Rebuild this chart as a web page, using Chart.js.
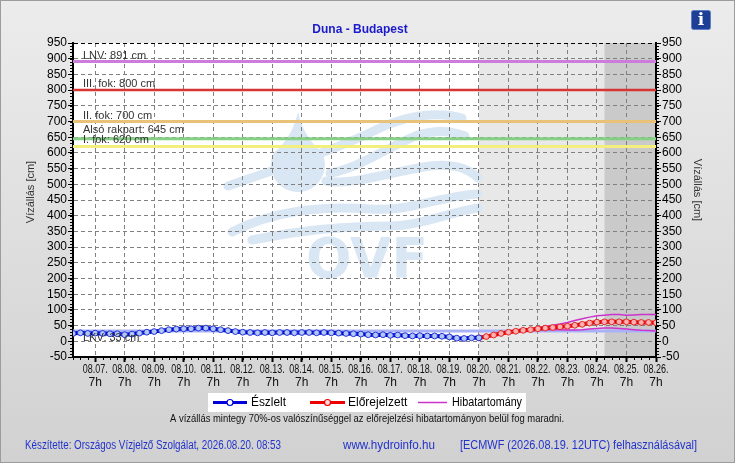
<!DOCTYPE html>
<html><head><meta charset="utf-8">
<script src="https://cdn.jsdelivr.net/npm/chart.js@4.4.1/dist/chart.umd.min.js"></script>
<style>html,body{margin:0;padding:0;background:#ddd;overflow:hidden}#wrap{width:735px;height:463px}</style>
</head><body><div id="wrap"><canvas id="c" width="735" height="463"></canvas></div>
<script>
// ---- data ----
const dayLabels = ['08.07.','08.08.','08.09.','08.10.','08.11.','08.12.','08.13.','08.14.','08.15.','08.16.','08.17.','08.18.','08.19.','08.20.','08.21.','08.22.','08.23.','08.24.','08.25.','08.26.'];
const hourLabel = '7h';
// time in days relative to 08.07. 7h; series are 6-hourly
const obsStartDay = -0.75;   // 08.06. 13h
const fcStartDay = 13;       // 08.20. 7h
const stepDays = 0.25;       // 6 h
const darkStartDay = 17.25;  // 08.24. 13h
const xMinDay = -0.75, xMaxDay = 19;
const obsValues = [25,27,25,26,25,24,24,21,23,26, 29,31,34,37,39,40,40,42,42,40, 37,34,31,29,28,27,28,27,28,28, 27,28,28,27,28,27,26,25,24,23, 21,20,21,19,20,18,17,18,17,17, 16,14,10,9,11,11];
const fcValues   = [11,15,20,25,29,32,35,37,40,42,44,46,48,51,54,58,61,62,62,62,62,61,60,60,59];
const bandUpper  = [11,15,20,25,30,33,36,39,43,47,51,55,60,66,72,77,81,83,85,85,83,84,85,85,85];
const bandLower  = [11,14,19,24,28,31,33,34,36,37,37,37,36,36,37,39,41,42,42,41,39,37,35,34,33];
const levelNames  = ['LNV: 891 cm','III. fok: 800 cm','II. fok: 700 cm','Alsó rakpart: 645 cm','I. fok: 620 cm','LKV: 33 cm'];
const levelValues = [891,800,700,645,620,33];
const yMin = -50, yMax = 950, yStep = 50;
// ---- styles ----
const levelColors = ['#cc7ddb','#d83434','#e9c27a','#86d086','#f2ef7e','#a9b1f7'];
const levelWidths = [3,2.5,3,3,3,3];
const levelLabelDy = [-6,-6.5,-6,-8.5,-6.5,7];
const FONT = '"Liberation Sans", Arial, sans-serif';

const series = (start, vals) => vals.map((v,i)=>({x:start+i*stepDays, y:v}));
const levelData = v => [{x:xMinDay,y:v},{x:xMaxDay,y:v}];

const datasets = [
  {label:'Észlelt', data:series(obsStartDay,obsValues), borderColor:'#0000dd', borderWidth:4,
   pointRadius:2.9, pointBackgroundColor:'#b2c8f4', pointBorderColor:'#2536d6', pointBorderWidth:1, tension:0},
  {label:'Előrejelzett', data:series(fcStartDay,fcValues), borderColor:'#ee0000', borderWidth:4,
   pointRadius:2.9, pointBackgroundColor:'#ffb0b0', pointBorderColor:'#e02828', pointBorderWidth:1, tension:0},
  {label:'Hibatartomány', data:series(fcStartDay,bandUpper), borderColor:'#cc33cc', borderWidth:1.5, pointRadius:0},
  {label:'Hibatartomány alsó', data:series(fcStartDay,bandLower), borderColor:'#cc33cc', borderWidth:1.5, pointRadius:0},
];
levelValues.forEach((v,i)=>datasets.push({label:levelNames[i], data:levelData(v), borderColor:levelColors[i], borderWidth:levelWidths[i], pointRadius:0}));

function wave(ctx, pts){
  ctx.beginPath(); ctx.moveTo(pts[0][0],pts[0][1]);
  for(let i=1;i<pts.length;i+=3) ctx.bezierCurveTo(pts[i][0],pts[i][1],pts[i+1][0],pts[i+1][1],pts[i+2][0],pts[i+2][1]);
  ctx.stroke();
}

const deco = {
  id:'deco',
  beforeDraw(chart){
    const {ctx, chartArea:a, scales:{x}} = chart;
    const W = chart.width, H = chart.height;
    ctx.save();
    const g = ctx.createLinearGradient(0,0,0,H);
    g.addColorStop(0,'#ececec'); g.addColorStop(1,'#d1d1d1');
    ctx.fillStyle = g; ctx.fillRect(0,0,W,H);
    ctx.strokeStyle = '#9c9c9c'; ctx.lineWidth = 1; ctx.strokeRect(0.5,0.5,W-1,H-1);
    ctx.fillStyle = '#fff'; ctx.fillRect(a.left,a.top,a.width,a.height);
    const xf = x.getPixelForValue(fcStartDay), xd = x.getPixelForValue(darkStartDay);
    ctx.fillStyle = '#e8e8e8'; ctx.fillRect(xf,a.top,xd-xf,a.height);
    ctx.fillStyle = '#cacaca'; ctx.fillRect(xd,a.top,a.right-xd,a.height);
    // OVF watermark
    const wc = '#d9e6f3';
    ctx.fillStyle = wc; ctx.strokeStyle = wc; ctx.lineCap = 'round';
    ctx.beginPath(); ctx.moveTo(298,112);
    ctx.quadraticCurveTo(304,138,322,152);
    ctx.arc(298,165,27,-0.48,Math.PI+0.48,false);
    ctx.quadraticCurveTo(292,138,298,112); ctx.fill();
    ctx.lineWidth = 9;
    wave(ctx,[[228,186],[280,168],[340,148],[380,128],[410,114],[440,112],[462,118]]);
    wave(ctx,[[330,173],[360,168],[385,148],[418,135],[435,130],[452,131],[465,136]]);
    wave(ctx,[[326,181],[350,186],[390,172],[430,166],[455,163],[470,170],[478,178]]);
    wave(ctx,[[232,232],[270,212],[320,205],[370,209],[410,212],[440,196],[478,194]]);
    wave(ctx,[[252,240],[300,230],[350,226],[390,226],[420,226],[450,212],[478,208]]);
    ctx.font = 'bold 56px "DejaVu Sans", sans-serif'; ctx.textAlign = 'center'; ctx.textBaseline = 'alphabetic';
    ctx.fillText('OVF', 367, 277, 122);
    ctx.restore();
  },
  afterDraw(chart){
    const {ctx, chartArea:a, scales:{x,y}} = chart;
    ctx.save();
    // level labels
    ctx.font = '11px ' + FONT; ctx.fillStyle = '#333'; ctx.textAlign = 'left'; ctx.textBaseline = 'middle';
    levelNames.forEach((n,i)=>{ ctx.fillText(n, a.left+10, y.getPixelForValue(levelValues[i])+levelLabelDy[i]); });
    // minor ticks
    ctx.strokeStyle = '#000'; ctx.lineWidth = 1; ctx.beginPath();
    for(let v=yMin; v<=yMax; v+=10){
      const py = Math.round(y.getPixelForValue(v))+0.5;
      ctx.moveTo(a.left-3,py); ctx.lineTo(a.left,py);
      ctx.moveTo(a.right,py); ctx.lineTo(a.right+3,py);
    }
    for(let d=xMinDay; d<=xMaxDay+1e-6; d+=stepDays){
      const px = Math.round(x.getPixelForValue(d))+0.5;
      ctx.moveTo(px,a.bottom); ctx.lineTo(px,a.bottom+3);
    }
    ctx.stroke();
    // x labels
    ctx.fillStyle = '#111'; ctx.textAlign = 'center'; ctx.font = '12px ' + FONT;
    dayLabels.forEach((l,i)=>{
      const px = x.getPixelForValue(i);
      ctx.fillText(l, px, a.bottom+13, 25);
      ctx.fillText(hourLabel, px, a.bottom+26);
    });
    // axis titles
    ctx.fillStyle = '#333'; ctx.font = '11px ' + FONT;
    ctx.save(); ctx.translate(31,192); ctx.rotate(-Math.PI/2); ctx.fillText('Vízállás [cm]',0,0); ctx.restore();
    ctx.save(); ctx.translate(697,190); ctx.rotate(Math.PI/2); ctx.fillText('Vízállás [cm]',0,0); ctx.restore();
    // title
    ctx.fillStyle = '#1b1bcc'; ctx.font = 'bold 12px ' + FONT;
    ctx.fillText('Duna - Budapest', 360, 30);
    // legend
    ctx.fillStyle = '#fff'; ctx.fillRect(208,393,318,19);
    const ly = 402.5;
    const item = (x1,x2,col,lw,mark,fill,label,tx,mw)=>{
      ctx.strokeStyle = col; ctx.lineWidth = lw; ctx.beginPath(); ctx.moveTo(x1,ly); ctx.lineTo(x2,ly); ctx.stroke();
      if(mark){ ctx.beginPath(); ctx.arc((x1+x2)/2,ly,3,0,Math.PI*2); ctx.fillStyle=fill; ctx.fill(); ctx.lineWidth=1.2; ctx.stroke(); }
      ctx.fillStyle = '#000'; ctx.font = '12px ' + FONT; ctx.textAlign = 'left';
      ctx.fillText(label, tx, ly+0.5, mw);
    };
    item(213,247,'#0000dd',3,true,'#ffffff','Észlelt',251,35);
    item(310,345,'#ee0000',3,true,'#ffdede','Előrejelzett',348,61);
    item(418,447,'#cc33cc',1.5,false,null,'Hibatartomány',452,70);
    // note
    ctx.fillStyle = '#111'; ctx.font = '11px ' + FONT; ctx.textAlign = 'center';
    ctx.fillText('A vízállás mintegy 70%-os valószínűséggel az előrejelzési hibatartományon belül fog maradni.', 367, 419, 394);
    // footer
    ctx.fillStyle = '#2233cc'; ctx.font = '12px ' + FONT; ctx.textAlign = 'left';
    ctx.fillText('Készítette: Országos Vízjelző Szolgálat, 2026.08.20. 08:53', 25, 446, 256);
    ctx.fillText('www.hydroinfo.hu', 343, 446, 92);
    ctx.fillText('[ECMWF (2026.08.19. 12UTC) felhasználásával]', 460, 446, 237);
    // info icon
    ctx.fillStyle = '#1d3f95'; ctx.strokeStyle = '#5d7fc5'; ctx.lineWidth = 1;
    ctx.beginPath(); ctx.roundRect(691.5,10.5,19,19,2); ctx.fill(); ctx.stroke();
    ctx.fillStyle = '#fff'; ctx.font = 'bold 17px "DejaVu Serif", serif'; ctx.textAlign = 'center';
    ctx.fillText('i', 701, 20.5);
    ctx.restore();
  }
};

const gridColor = c => (c.tick && (c.tick.value===yMax || c.tick.value===yMin)) ? '#000' : '#808080';
new Chart(document.getElementById('c'), {
  type:'line',
  data:{datasets},
  options:{
    responsive:false, animation:false, devicePixelRatio:1,
    layout:{padding:{top:43,left:0,right:0,bottom:0}},
    plugins:{legend:{display:false}, tooltip:{enabled:false}, title:{display:false}},
    scales:{
      x:{type:'linear', min:xMinDay, max:xMaxDay,
         afterBuildTicks:s=>{ s.ticks = dayLabels.map((_,i)=>({value:i})); },
         afterFit:s=>{ s.height = 106; },
         ticks:{display:false},
         grid:{color:c=>(c.tick && c.tick.value===xMaxDay)?'#000':'#808080', lineWidth:1, tickLength:5, tickColor:'#000', tickWidth:2},
         border:{display:true, color:'#000', width:2, dash:[4,3]}},
      y:{type:'linear', position:'left', min:yMin, max:yMax,
         ticks:{stepSize:yStep, autoSkip:false, padding:1, color:'#000', font:{family:FONT,size:12}},
         afterFit:s=>{ s.width = 73; },
         grid:{color:gridColor, lineWidth:1, tickLength:5, tickColor:'#000'},
         border:{display:true, color:'#000', width:2, dash:[4,3]}},
      y2:{type:'linear', position:'right', min:yMin, max:yMax,
         ticks:{stepSize:yStep, autoSkip:false, padding:1, color:'#000', font:{family:FONT,size:12}},
         afterFit:s=>{ s.width = 79; },
         grid:{drawOnChartArea:false, tickLength:5, tickColor:'#000'},
         border:{display:true, color:'#000', width:2}}
    }
  },
  plugins:[deco]
});
</script></body></html>
